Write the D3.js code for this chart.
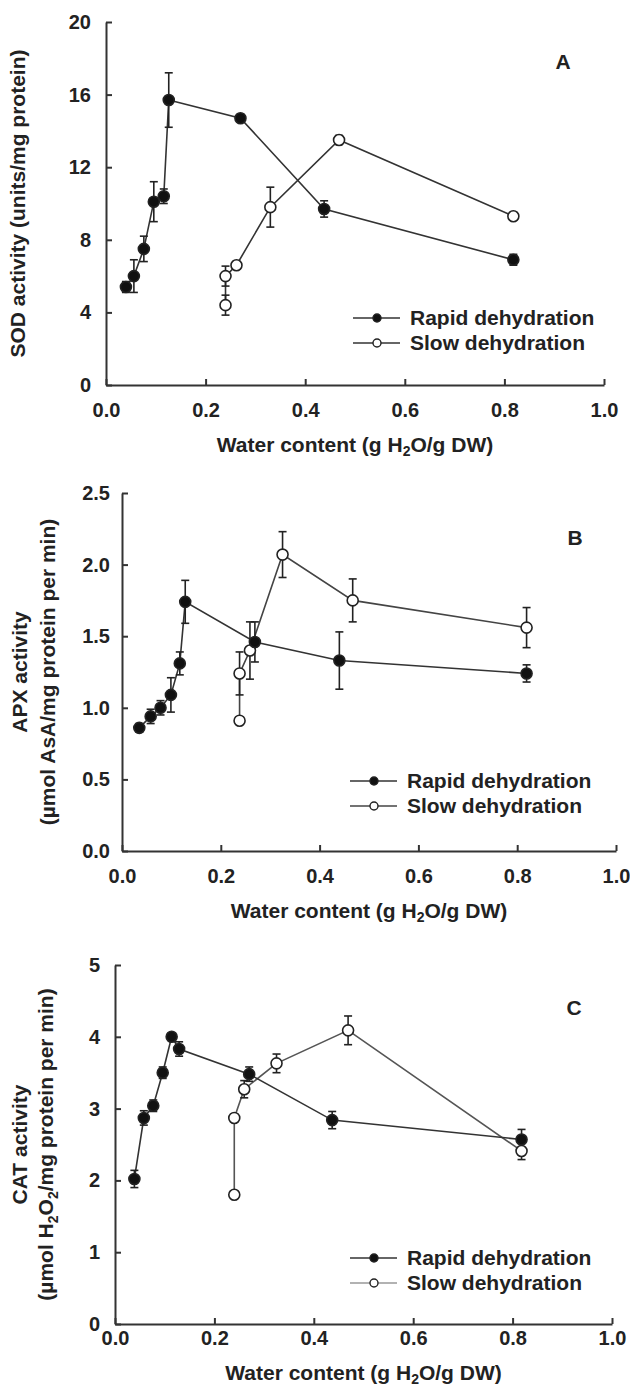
<!DOCTYPE html>
<html>
<head>
<meta charset="utf-8">
<script src="https://cdn.jsdelivr.net/npm/d3@7"></script>
<style>
  body { margin: 0; background: #fff; }
  svg { display: block; font-family: "Liberation Sans", Arial, sans-serif; font-weight: bold; }
  .axis path, .axis line { stroke: #333; stroke-width: 2; }
  .axis text { font-size: 20px; fill: #222; font-family: "Liberation Sans", Arial, sans-serif; font-weight: bold; }
</style>
</head>
<body>
<svg id="chart" width="630" height="1388"></svg>
<script>
const xTicks = [0, 0.2, 0.4, 0.6, 0.8, 1.0]
const sodTicks = [0, 4, 8, 12, 16, 20]
const apxTicks = [0, 0.5, 1.0, 1.5, 2.0, 2.5]
const catTicks = [0, 1, 2, 3, 4, 5]

const seriesNames = ["Rapid dehydration", "Slow dehydration"]

// panel A - SOD
const sodRapidX = [0.040, 0.056, 0.076, 0.096, 0.116, 0.126, 0.270, 0.438, 0.818]
const sodRapidY = [5.4, 6.0, 7.5, 10.1, 10.4, 15.7, 14.7, 9.7, 6.9]
const sodRapidErr = [0.3, 0.9, 0.7, 1.1, 0.4, 1.5, 0.2, 0.45, 0.3]
const sodSlowX = [0.240, 0.240, 0.262, 0.330, 0.468, 0.818]
const sodSlowY = [4.4, 6.0, 6.6, 9.8, 13.5, 9.3]
const sodSlowErr = [0.55, 0.55, 0.2, 1.1, 0.25, 0.2]

// panel B - APX
const apxRapidX = [0.035, 0.058, 0.078, 0.099, 0.117, 0.128, 0.269, 0.440, 0.819]
const apxRapidY = [0.86, 0.94, 1.00, 1.09, 1.31, 1.74, 1.46, 1.33, 1.24]
const apxRapidErr = [0.03, 0.05, 0.05, 0.12, 0.08, 0.15, 0.14, 0.2, 0.06]
const apxSlowX = [0.238, 0.238, 0.259, 0.325, 0.467, 0.819]
const apxSlowY = [0.91, 1.24, 1.40, 2.07, 1.75, 1.56]
const apxSlowErr = [0, 0.15, 0.2, 0.16, 0.15, 0.14]

// panel C - CAT
const catRapidX = [0.039, 0.058, 0.077, 0.096, 0.114, 0.129, 0.270, 0.437, 0.818]
const catRapidY = [2.02, 2.87, 3.04, 3.50, 4.00, 3.83, 3.48, 2.84, 2.57]
const catRapidErr = [0.12, 0.1, 0.08, 0.08, 0.05, 0.1, 0.1, 0.12, 0.14]
const catSlowX = [0.240, 0.240, 0.260, 0.325, 0.469, 0.818]
const catSlowY = [1.80, 2.87, 3.27, 3.63, 4.09, 2.41]
const catSlowErr = [0, 0.05, 0.12, 0.13, 0.2, 0.12]

const zip = (xs, ys, es) => xs.map((x, i) => ({ x: x, y: ys[i], e: es[i] }))

const svg = d3.select("#chart")

function drawPanel(p) {
    const xScale = d3.scaleLinear().domain([0, 1]).range([p.left, p.right])
    const yScale = d3.scaleLinear().domain([0, p.yMax]).range([p.bottom, p.top])

    const g = svg.append("g")

    g.append("g")
     .attr("class", "axis")
     .attr("transform", `translate(0, ${p.bottom})`)
     .call(d3.axisBottom(xScale).tickValues(xTicks).tickFormat(d3.format(".1f"))
             .tickSizeInner(-6).tickSizeOuter(0).tickPadding(p.xPad))

    g.append("g")
     .attr("class", "axis")
     .attr("transform", `translate(${p.left}, 0)`)
     .call(d3.axisLeft(yScale).tickValues(p.yTicks).tickFormat(p.yFormat)
             .tickSizeInner(-6).tickSizeOuter(0).tickPadding(p.yPad))

    // x title
    const xt = g.append("text")
                .attr("x", (p.left + p.right) / 2)
                .attr("y", p.xTitleY)
                .attr("text-anchor", "middle")
                .attr("font-size", 21)
                .attr("fill", "#222")
    xt.append("tspan").text("Water content (g H")
    xt.append("tspan").attr("dy", 4).attr("font-size", 14).text("2")
    xt.append("tspan").attr("dy", -4).text("O/g DW)")

    // y title
    const midY = (p.top + p.bottom) / 2
    p.yTitle.forEach((line, i) => {
        const t = g.append("text")
                   .attr("transform", `translate(${p.yTitleX[i]}, ${midY}) rotate(-90)`)
                   .attr("text-anchor", "middle")
                   .attr("dy", "0.35em")
                   .attr("font-size", 21)
                   .attr("fill", "#222")
        line.forEach((part) => {
            if (part.sub) {
                t.append("tspan").attr("dy", 5).attr("font-size", 14).text(part.sub)
            } else {
                t.append("tspan").attr("dy", part.after ? -5 : 0).text(part.t)
            }
        })
    })

    // panel letter
    g.append("text")
     .attr("x", p.letterX)
     .attr("y", p.letterY)
     .attr("text-anchor", "middle")
     .attr("dy", "0.35em")
     .attr("font-size", 21)
     .attr("fill", "#222")
     .text(p.letter)

    const line = d3.line()
                   .x((d) => xScale(d.x))
                   .y((d) => yScale(d.y))

    const series = [
        { data: p.slow, fill: "#fff", stroke: p.slowStroke },
        { data: p.rapid, fill: "#111", stroke: "#333" }
    ]

    series.forEach((s) => {
        g.append("path")
         .datum(s.data)
         .attr("d", line)
         .attr("fill", "none")
         .attr("stroke", s.stroke)
         .attr("stroke-width", 1.6)
    })

    series.forEach((s) => {
        const eb = g.append("g")
                    .selectAll(".err")
                    .data(s.data.filter((d) => d.e > 0))
                    .enter()
                    .append("g")
                    .attr("stroke", "#222")
                    .attr("stroke-width", 1.6)
        eb.append("line")
          .attr("x1", (d) => xScale(d.x)).attr("x2", (d) => xScale(d.x))
          .attr("y1", (d) => yScale(d.y - d.e)).attr("y2", (d) => yScale(d.y + d.e))
        eb.append("line")
          .attr("x1", (d) => xScale(d.x) - 4).attr("x2", (d) => xScale(d.x) + 4)
          .attr("y1", (d) => yScale(d.y + d.e)).attr("y2", (d) => yScale(d.y + d.e))
        eb.append("line")
          .attr("x1", (d) => xScale(d.x) - 4).attr("x2", (d) => xScale(d.x) + 4)
          .attr("y1", (d) => yScale(d.y - d.e)).attr("y2", (d) => yScale(d.y - d.e))
    })

    series.forEach((s) => {
        g.append("g")
         .selectAll("circle")
         .data(s.data)
         .enter()
         .append("circle")
         .attr("cx", (d) => xScale(d.x))
         .attr("cy", (d) => yScale(d.y))
         .attr("r", 5.5)
         .attr("fill", s.fill)
         .attr("stroke", "#222")
         .attr("stroke-width", 1.6)
    })

    // legend
    const legend = g.append("g")
    const rows = [
        { name: seriesNames[0], fill: "#111", stroke: "#333", y: p.legendY },
        { name: seriesNames[1], fill: "#fff", stroke: p.legendSlowStroke, y: p.legendY + 25 }
    ]
    rows.forEach((r) => {
        legend.append("line")
              .attr("x1", p.legendX).attr("x2", p.legendX + 47)
              .attr("y1", r.y).attr("y2", r.y)
              .attr("stroke", r.stroke)
              .attr("stroke-width", 1.6)
        legend.append("circle")
              .attr("cx", p.legendX + 24).attr("cy", r.y)
              .attr("r", 4)
              .attr("fill", r.fill)
              .attr("stroke", "#222")
              .attr("stroke-width", 1.4)
        legend.append("text")
              .attr("x", p.legendX + 57)
              .attr("y", r.y)
              .attr("dy", "0.35em")
              .attr("font-size", 21)
              .attr("fill", "#222")
              .text(r.name)
    })
}

drawPanel({
    left: 106, right: 604, top: 22, bottom: 385, yMax: 20,
    yTicks: sodTicks, yFormat: d3.format("d"), xPad: 18, yPad: 15,
    xTitleY: 452,
    yTitle: [[{ t: "SOD activity (units/mg protein)" }]], yTitleX: [25],
    letter: "A", letterX: 563, letterY: 62,
    rapid: zip(sodRapidX, sodRapidY, sodRapidErr),
    slow: zip(sodSlowX, sodSlowY, sodSlowErr),
    slowStroke: "#333", legendSlowStroke: "#333",
    legendX: 353, legendY: 318
})

drawPanel({
    left: 122, right: 616, top: 493, bottom: 851, yMax: 2.5,
    yTicks: apxTicks, yFormat: d3.format(".1f"), xPad: 18, yPad: 12,
    xTitleY: 918,
    yTitle: [[{ t: "APX activity" }], [{ t: "(µmol AsA/mg protein per min)" }]], yTitleX: [27, 55],
    letter: "B", letterX: 575, letterY: 538,
    rapid: zip(apxRapidX, apxRapidY, apxRapidErr),
    slow: zip(apxSlowX, apxSlowY, apxSlowErr),
    slowStroke: "#444", legendSlowStroke: "#444",
    legendX: 350, legendY: 781
})

drawPanel({
    left: 115, right: 612, top: 965, bottom: 1324, yMax: 5,
    yTicks: catTicks, yFormat: d3.format("d"), xPad: 7, yPad: 15,
    xTitleY: 1380,
    yTitle: [[{ t: "CAT activity" }],
             [{ t: "(µmol H" }, { sub: "2" }, { t: "O", after: true }, { sub: "2" }, { t: "/mg protein per min)", after: true }]],
    yTitleX: [27, 53],
    letter: "C", letterX: 574, letterY: 1008,
    rapid: zip(catRapidX, catRapidY, catRapidErr),
    slow: zip(catSlowX, catSlowY, catSlowErr),
    slowStroke: "#555", legendSlowStroke: "#999",
    legendX: 350, legendY: 1258
})
</script>
</body>
</html>
